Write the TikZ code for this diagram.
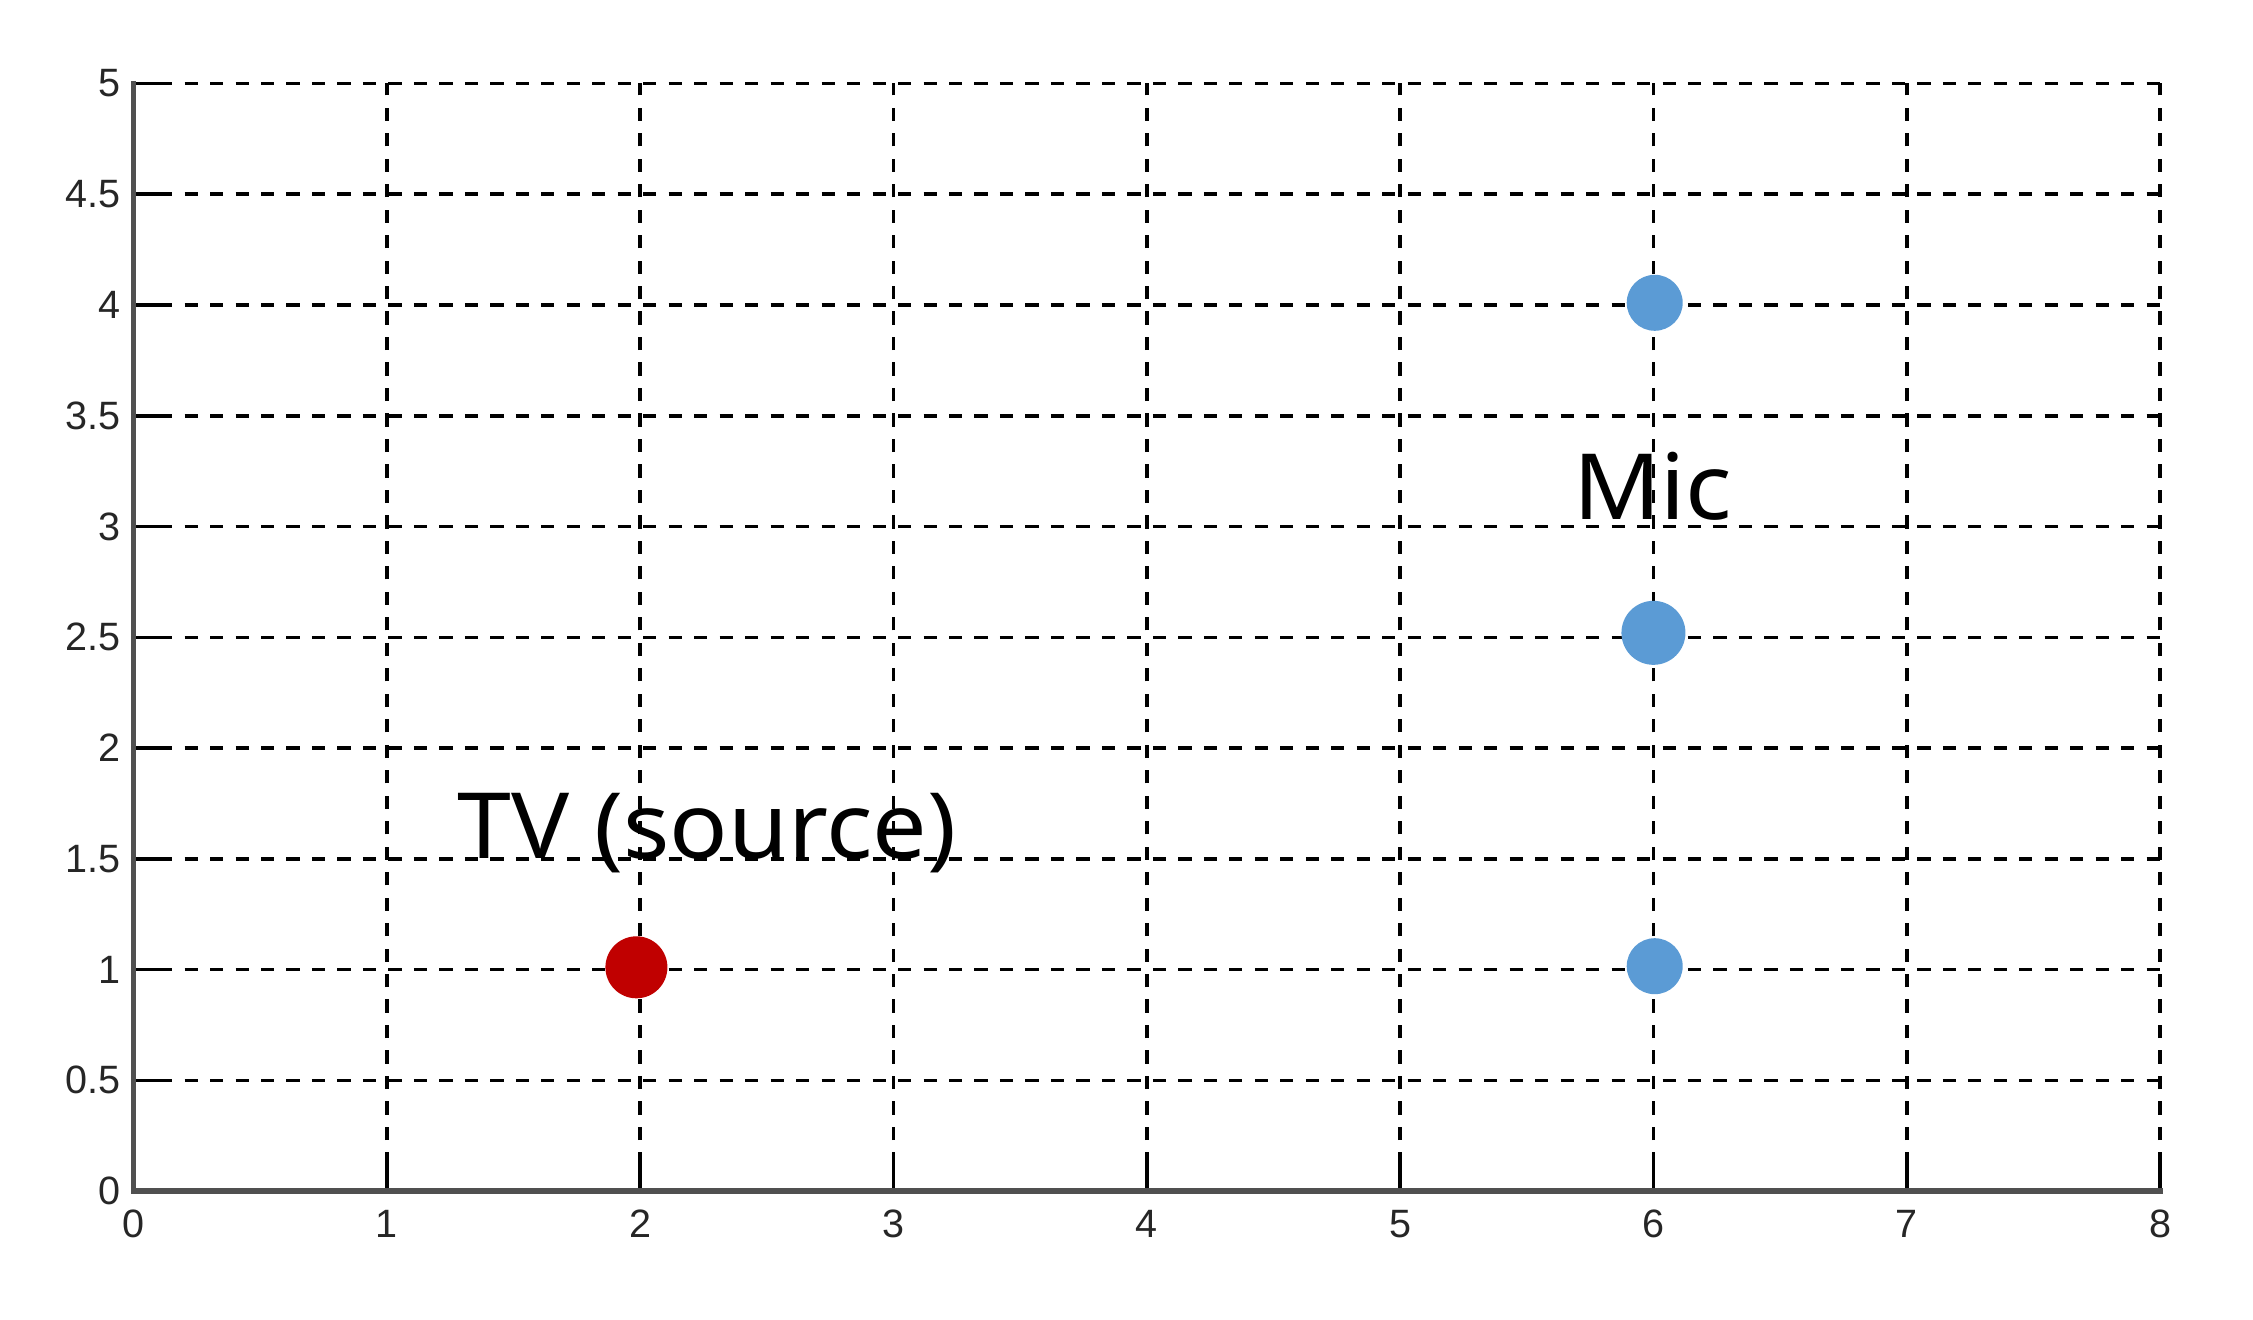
\documentclass[tikz,border=0pt]{standalone}
\usepackage{fontspec}
\setmainfont{Liberation Sans}
\newfontfamily\labelfont[FakeStretch=1.06]{Noto Sans}
\definecolor{srcred}{HTML}{C00000}
\definecolor{micblue}{HTML}{5B9BD5}
\definecolor{axisgray}{HTML}{505050}
\begin{document}
\begin{tikzpicture}[x=5.066cm,y=4.43cm,
  gridline/.style={black,line width=2pt,dash pattern=on 7.5pt off 7pt},
  axisline/.style={axisgray,line width=3.2pt,line cap=rect},
  tickline/.style={black,line width=2pt},
  ticklabel/.style={font=\fontsize{22.5}{26}\selectfont,text=black!85,inner sep=0pt},
  dotnode/.style={circle,inner sep=0pt,draw=none},
  biglabel/.style={font=\labelfont\fontsize{52}{60}\selectfont,inner sep=0pt}]
\useasboundingbox (-0.5274,-0.578) rectangle (8.367,5.377);
% grid
\foreach \i in {1,...,8} \draw[gridline] (\i,0) -- (\i,5);
\foreach \j in {0.5,1,...,5} \draw[gridline] (0,\j) -- (8,\j);
% ticks
\foreach \i in {1,...,8} \draw[tickline] (\i,0) -- ++(0,0.15);
\foreach \j in {0.5,1,...,5} \draw[tickline] (0,\j) -- ++(0.13,0);
% axes
\draw[axisline] (0,5) -- (0,0) -- (8,0);
% tick labels
\foreach \i in {0,...,8} \node[ticklabel,anchor=north] (xl\i) at (\i,-0.085) {\i};
\foreach \j in {0,0.5,1,1.5,2,2.5,3,3.5,4,4.5,5} \node[ticklabel,anchor=east] (yl\j) at (-0.05,\j) {\j};
% points
\node[dotnode,fill=srcred,minimum size=1.24cm] (tv) at (1.985,1.01) {};
\node[dotnode,fill=micblue,minimum size=1.12cm] (mic1) at (6.005,4.01) {};
\node[dotnode,fill=micblue,minimum size=1.28cm] (mic2) at (6.0,2.52) {};
\node[dotnode,fill=micblue,minimum size=1.12cm] (mic3) at (6.005,1.015) {};
% labels
\node[biglabel,anchor=base west] (tvlabel) at (1.276,1.499) {TV (source)};
\node[biglabel,anchor=base] (miclabel) at (5.997,3.03) {Mic};
\end{tikzpicture}
\end{document}
